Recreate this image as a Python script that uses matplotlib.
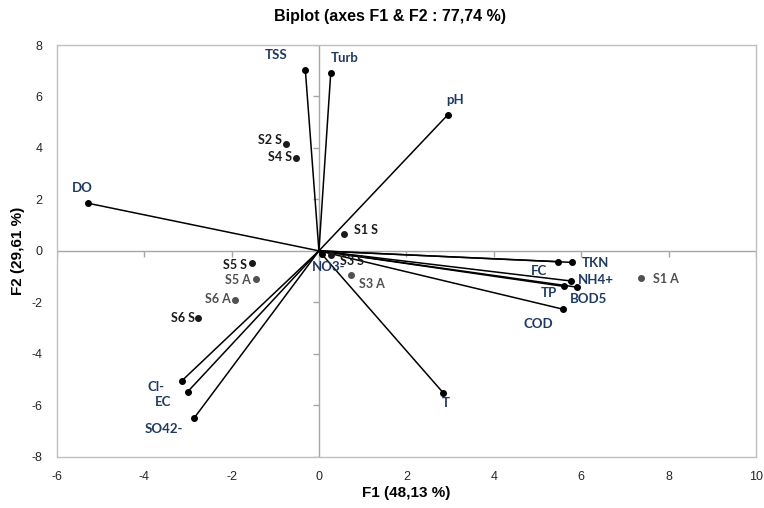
import numpy as np
import matplotlib
matplotlib.use('Agg')
import matplotlib.pyplot as plt

plt.rcParams['axes.unicode_minus'] = False

# variables (loadings, drawn as vectors from the origin)
variables = ['TSS', 'Turb', 'pH', 'DO', 'Cl-', 'EC', 'SO42-', 'NO3-',
             'TKN', 'FC', 'NH4+', 'TP', 'BOD5', 'COD', 'T']
var_f1 = [-0.31, 0.27, 2.95, -5.28, -3.13, -3.00, -2.86, 0.06,
          5.80, 5.48, 5.76, 5.60, 5.90, 5.59, 2.84]
var_f2 = [7.01, 6.90, 5.29, 1.85, -5.04, -5.47, -6.51, -0.14,
          -0.45, -0.42, -1.17, -1.38, -1.41, -2.27, -5.51]

# observations (sites, S = summer, A = autumn)
sites = ['S1 S', 'S1 A', 'S2 S', 'S3 S', 'S3 A', 'S4 S', 'S5 S', 'S5 A', 'S6 S', 'S6 A']
site_f1 = [0.58, 7.36, -0.75, 0.27, 0.73, -0.52, -1.53, -1.45, -2.77, -1.92]
site_f2 = [0.64, -1.06, 4.15, -0.17, -0.92, 3.61, -0.46, -1.08, -2.61, -1.90]

xticks = [-6, -4, -2, 0, 2, 4, 6, 8, 10]
yticks = [-8, -6, -4, -2, 0, 2, 4, 6, 8]

# label placement, offsets in pixels from the point
var_lab = {'TSS': (-29.5, 15.3, 'center'), 'Turb': (13.6, 15, 'center'),
           'pH': (7.5, 14.3, 'center'), 'DO': (-5.5, 15.7, 'center'),
           'Cl-': (-26, -6, 'center'), 'EC': (-25, -10.4, 'center'),
           'SO42-': (-30, -10.3, 'center'), 'NO3-': (7, -13, 'center'),
           'TKN': (9.7, -0.7, 'left'), 'FC': (-19.8, -9.4, 'center'),
           'NH4+': (7.7, 1, 'left'), 'TP': (-14.8, -7, 'center'),
           'BOD5': (11.4, -11.6, 'center'), 'COD': (-24.5, -15, 'center'),
           'T': (2.4, -10, 'center')}
site_lab = {'S1 S': (9.7, 4.3, 'left'), 'S1 A': (12, -1.3, 'left'),
            'S2 S': (-4.3, 4.4, 'right'), 'S3 S': (21.4, -6, 'center'),
            'S3 A': (8, -9, 'left'), 'S4 S': (-3.6, 1.4, 'right'),
            'S5 S': (-4.7, -2.4, 'right'), 'S5 A': (-5, -1.4, 'right'),
            'S6 S': (-2.7, 0, 'right'), 'S6 A': (-4, 1, 'right')}

ui_font = ['Liberation Sans', 'DejaVu Sans']
lab_font = ['Lato', 'DejaVu Sans']
navy = '#1F3A60'

fig = plt.figure(figsize=(7.64, 5.08), dpi=100)
ax = fig.add_axes([0.0742, 0.1010, 0.9153, 0.8104])
ax.set_xlim(-6, 10)
ax.set_ylim(-8, 8)

for s in ax.spines.values():
    s.set_color('#BFBFBF')
    s.set_linewidth(1.0)

# zero axes with small ticks (Excel style)
ax.axhline(0, color='#A6A6A6', lw=1.0, zorder=1)
ax.axvline(0, color='#A6A6A6', lw=1.0, zorder=1)
ax.plot(np.zeros(len(yticks)), yticks, ls='none', marker=0, ms=4, mec='#A6A6A6', mew=1.0, zorder=1)
ax.plot(xticks, np.zeros(len(xticks)), ls='none', marker=3, ms=4, mec='#A6A6A6', mew=1.0, zorder=1)

ax.set_xticks(xticks)
ax.set_yticks(yticks)
ax.tick_params(length=0, labelsize=9, labelcolor='#262626')
ax.tick_params(axis='x', pad=10)
ax.tick_params(axis='y', pad=10)
for t in ax.get_xticklabels() + ax.get_yticklabels():
    t.set_family(ui_font)

# vectors
for name, x, y in zip(variables, var_f1, var_f2):
    ax.plot([0, x], [0, y], color='black', lw=1.1, zorder=2)
    ax.plot(x, y, 'o', color='black', ms=4, zorder=3)
    dx, dy, ha = var_lab[name]
    ax.annotate(name, (x, y), xytext=(dx, dy), textcoords='offset pixels',
                ha=ha, va='center', color=navy, fontsize=9.5,
                fontweight='bold', family=lab_font, zorder=4)

# sites
for name, x, y in zip(sites, site_f1, site_f2):
    col = '#1A1A1A' if name.endswith('S') else '#505050'
    ax.plot(x, y, 'o', color=col, ms=4, zorder=3)
    dx, dy, ha = site_lab[name]
    ax.annotate(name, (x, y), xytext=(dx, dy), textcoords='offset pixels',
                ha=ha, va='center', color=col, fontsize=9,
                fontweight='bold', family=lab_font, zorder=4)

fig.suptitle('Biplot (axes F1 & F2 : 77,74 %)', x=0.51, y=0.982,
             fontsize=11.5, fontweight='bold', family=ui_font)
ax.set_xlabel('F1 (48,13 %)', fontsize=11, fontweight='bold', family=ui_font)
ax.set_ylabel('F2 (29,61 %)', fontsize=11, fontweight='bold', family=ui_font)
ax.xaxis.set_label_coords(0.5, -0.072)
ax.yaxis.set_label_coords(-0.046, 0.5)

fig.savefig('out.png', dpi=100)
